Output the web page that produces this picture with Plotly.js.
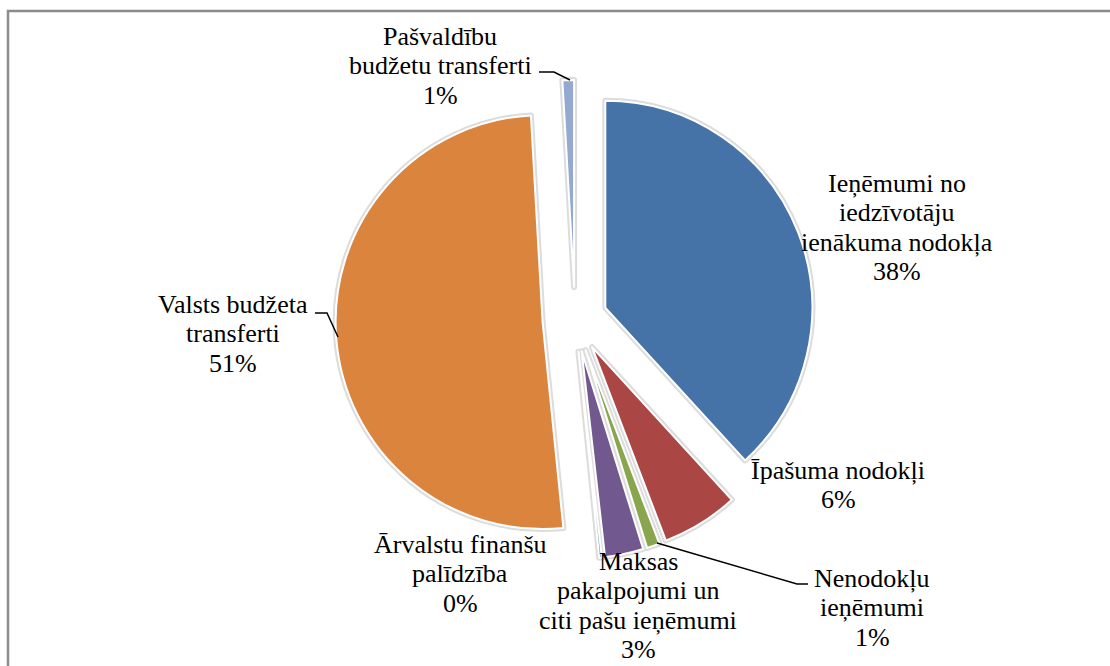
<!DOCTYPE html>
<html><head><meta charset="utf-8">
<script src="https://cdn.plot.ly/plotly-3.0.1.min.js"></script>
<style>body{margin:0;background:#fff}#chart{width:1110px;height:666px}
#chart text{font-family:"Liberation Serif","Times New Roman",serif !important;}</style>
</head><body><div id="chart"></div>
<script>
// ---- data ----
const categories = ["Ieņēmumi no iedzīvotāju ienākuma nodokļa", "Īpašuma nodokļi", "Nenodokļu ieņēmumi",
  "Maksas pakalpojumi un citi pašu ieņēmumi", "Ārvalstu finanšu palīdzība", "Valsts budžeta transferti",
  "Pašvaldību budžetu transferti"];
const values = [38.2, 6.0, 1.0, 3.0, 0.2, 50.7, 0.9];
const labelLines = [
  ["Ieņēmumi no", "iedzīvotāju", "ienākuma nodokļa"],
  ["Īpašuma nodokļi"],
  ["Nenodokļu", "ieņēmumi"],
  ["Maksas", "pakalpojumi un", "citi pašu ieņēmumi"],
  ["Ārvalstu finanšu", "palīdzība"],
  ["Valsts budžeta", "transferti"],
  ["Pašvaldību", "budžetu transferti"]
];
const colors = ["#4572A7", "#AA4643", "#89A54E", "#71588F", "#4198AF", "#DB843D", "#93A9CF"];

// ---- layout geometry (pixels) ----
const L = 275, T = 80, W = 600, H = 479;
const px = x => (x - L) / W;
const py = y => 1 - (y - T) / H;
// label anchors: centre x, first baseline y
const labelPos = [[897, 192], [838, 479], [872, 587], [638, 570], [460, 553], [233, 313], [440, 45]];
const lineStep = 29.5, fontSize = 26;
const font = {family: "Liberation Serif", size: fontSize, color: "#000"};

const total = values.reduce((a, b) => a + b, 0);
const annotations = [];
categories.forEach((c, i) => {
  const lines = labelLines[i].concat([Math.round(values[i] / total * 100) + "%"]);
  lines.forEach((t, k) => {
    const base = labelPos[i][1] + k * lineStep;
    annotations.push({
      xref: "paper", yref: "paper", x: px(labelPos[i][0]), y: py(base - 8.8),
      xanchor: "center", yanchor: "middle", showarrow: false, text: t, font: font
    });
  });
});

function pathOf(pts) {
  return pts.map((p, i) => (i ? "L" : "M") + px(p[0]) + "," + py(p[1])).join(" ");
}
const leaders = [
  [[539, 72], [554, 72], [570, 80]],
  [[315, 313], [327, 313], [338, 337]],
  [[657, 543], [797, 584], [808, 584]]
];
const shapes = leaders.map(p => ({type: "path", xref: "paper", yref: "paper", path: pathOf(p),
  line: {color: "#000", width: 1.5}}));
shapes.push({type: "path", xref: "paper", yref: "paper",
  path: pathOf([[8, 700], [8, 11], [1120, 11]]), line: {color: "#8c8c8c", width: 2.5}});

const pull = 0.157;
const common = {type: "pie", values: values, labels: categories, sort: false, direction: "clockwise",
  rotation: 0, pull: pull, textinfo: "none", hoverinfo: "none", showlegend: false};
const shadow = Object.assign({}, common, {marker: {colors: values.map(() => "#dcdcdc"),
  line: {color: "#dcdcdc", width: 6}}});
const main = Object.assign({}, common, {marker: {colors: colors, line: {color: "#ffffff", width: 2}}});

Plotly.newPlot("chart", [shadow, main], {
  width: 1110, height: 666,
  margin: {l: L, r: 1110 - L - W, t: T, b: 666 - T - H},
  paper_bgcolor: "#fff", plot_bgcolor: "#fff",
  showlegend: false,
  font: font,
  annotations: annotations,
  shapes: shapes
}, {displayModeBar: false, staticPlot: true});
</script></body></html>
